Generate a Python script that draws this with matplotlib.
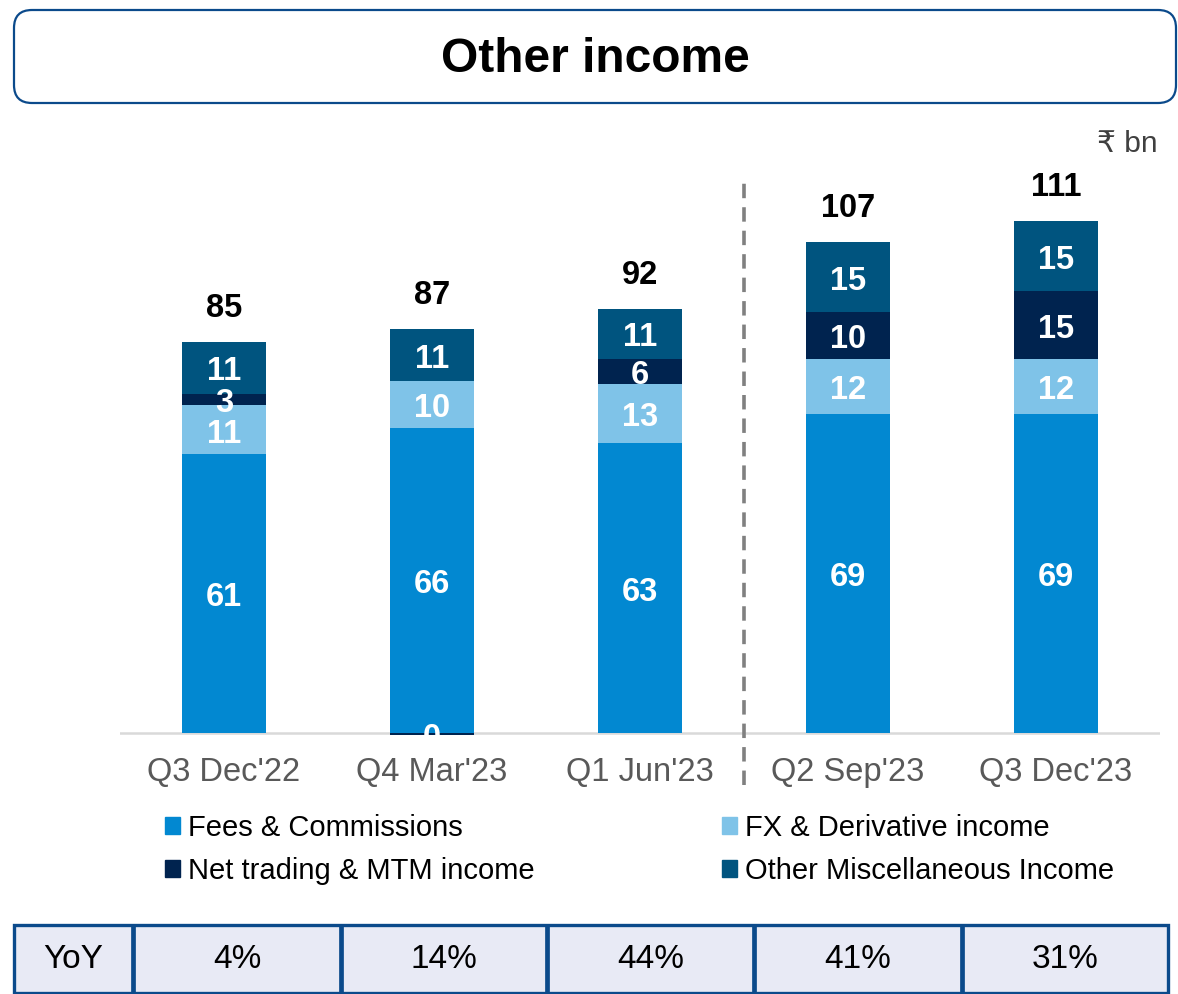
import numpy as np
import matplotlib
matplotlib.use("Agg")
import matplotlib.pyplot as plt
from matplotlib.patches import FancyBboxPatch, Rectangle, Patch

plt.rcParams['font.family'] = ['Liberation Sans', 'DejaVu Sans']

# ---- data ----
quarters = ["Q3 Dec'22", "Q4 Mar'23", "Q1 Jun'23", "Q2 Sep'23", "Q3 Dec'23"]
series_names = ["Fees & Commissions", "FX & Derivative income",
                "Net trading & MTM income", "Other Miscellaneous Income"]
fees = [60.6, 66.3, 63.0, 69.4, 69.3]
fx = [10.6, 10.2, 12.8, 11.9, 12.0]
net_trading = [2.6, -0.4, 5.6, 10.2, 14.8]
misc = [11.2, 11.3, 10.8, 15.2, 15.2]
yoy_label = "YoY"
yoy = ["4%", "14%", "44%", "41%", "31%"]
unit_label = "₹ bn"
title = "Other income"

colors = ["#0288D1", "#7FC3E8", "#00234F", "#00547F"]

W, H = 1178, 994
fig = plt.figure(figsize=(W / 100, H / 100), dpi=100)

# overlay axes in pixel coords for title box and table
ov = fig.add_axes([0, 0, 1, 1])
ov.set_xlim(0, W)
ov.set_ylim(H, 0)
ov.axis('off')

box = FancyBboxPatch((14, 10), 1162, 93, boxstyle="round,pad=0,rounding_size=18",
                     facecolor='white', edgecolor='#0B4A8B', linewidth=1.6)
ov.add_patch(box)
ov.text(595, 59, title, ha='center', va='center', fontsize=34.5, fontweight='bold', color='black')

# table
col_edges = [14, 133, 341, 547, 754, 962, 1168]
ty0, ty1 = 925, 993
cells = [yoy_label] + yoy
for i, txt in enumerate(cells):
    x0, x1 = col_edges[i], col_edges[i + 1]
    ov.add_patch(Rectangle((x0, ty0), x1 - x0, ty1 - ty0, facecolor='#E8EAF5',
                           edgecolor='none'))
    ov.text((x0 + x1) / 2, (ty0 + ty1) / 2 + 1, txt, ha='center', va='center',
            fontsize=24, color='black')
ov.add_patch(Rectangle((col_edges[0], ty0), col_edges[-1] - col_edges[0], ty1 - ty0,
                       facecolor='none', edgecolor='#0B4A8B', linewidth=2.4))
for xe in col_edges[1:-1]:
    ov.plot([xe, xe], [ty0, ty1], color='#0B4A8B', linewidth=3.4, solid_capstyle='butt')

# main chart axes
ppu = 4.6
ymin, ymax = -3, 122
base_px = 733
bottom_px = base_px - ymin * ppu
ax = fig.add_axes([120 / W, (H - bottom_px) / H, 1040 / W, (ymax - ymin) * ppu / H])
ax.patch.set_alpha(0)
ax.set_xlim(-0.5, 4.5)
ax.set_ylim(ymin, ymax)
for s in ax.spines.values():
    s.set_visible(False)
ax.set_yticks([])
x = np.arange(len(quarters))
ax.set_xticks(x, quarters)
ax.tick_params(axis='x', length=0, pad=7, labelsize=23.5, labelcolor='#595959')

ax.axhline(0, color='#D9D9D9', linewidth=1.8, zorder=0.5)

width = 0.40
pos_b = np.zeros(len(x))
neg_b = np.zeros(len(x))
handles = []
for vals, name, col in zip([fees, fx, net_trading, misc], series_names, colors):
    v = np.array(vals, dtype=float)
    bottom = np.where(v >= 0, pos_b, neg_b)
    bars = ax.bar(x, v, width, bottom=bottom, color=col, label=name, zorder=2, clip_on=False)
    handles.append(bars)
    for xi, vi, bi in zip(x, v, bottom):
        ax.annotate(f"{int(round(vi))}", (xi, bi + vi / 2), xytext=(0, -3),
                    textcoords='offset points', ha='center', va='center',
                    fontsize=23.5, fontweight='bold', color='white', zorder=3)
    pos_b = np.where(v >= 0, pos_b + v, pos_b)
    neg_b = np.where(v < 0, neg_b + v, neg_b)

totals = np.array(fees) + np.array(fx) + np.array(net_trading) + np.array(misc)
for xi, t, top in zip(x, totals, pos_b):
    ax.annotate(f"{int(round(t))}", (xi, top), xytext=(0, 18), textcoords='offset points',
                ha='center', va='baseline', fontsize=23.5, fontweight='bold', color='black')

# dashed separator between Q1 and Q2
ax.axvline(2.5, ymin=(bottom_px - 785) / ((ymax - ymin) * ppu),
           ymax=(bottom_px - 183) / ((ymax - ymin) * ppu),
           color='#808080', linewidth=2.6, linestyle=(0, (4, 2.5)), clip_on=False)

# unit label
fig.text(1158 / W, 1 - 144 / H, unit_label, ha='right', va='center', fontsize=21.5,
         color='#404040')

# legend (column-wise fill: Fees, Net trading | FX, Other)
order = [0, 2, 1, 3]
leg = fig.legend(handles=[Patch(color=colors[i]) for i in order],
                 labels=[series_names[i] for i in order], ncol=2,
                 loc='upper left', bbox_to_anchor=(165 / W, 1 - 814 / H),
                 frameon=False, fontsize=21, handlelength=0.52, handleheight=0.52,
                 handletextpad=0.28, columnspacing=6.4, labelspacing=0.5, borderpad=0,
                 borderaxespad=0)

fig.savefig("out.png", dpi=100)
